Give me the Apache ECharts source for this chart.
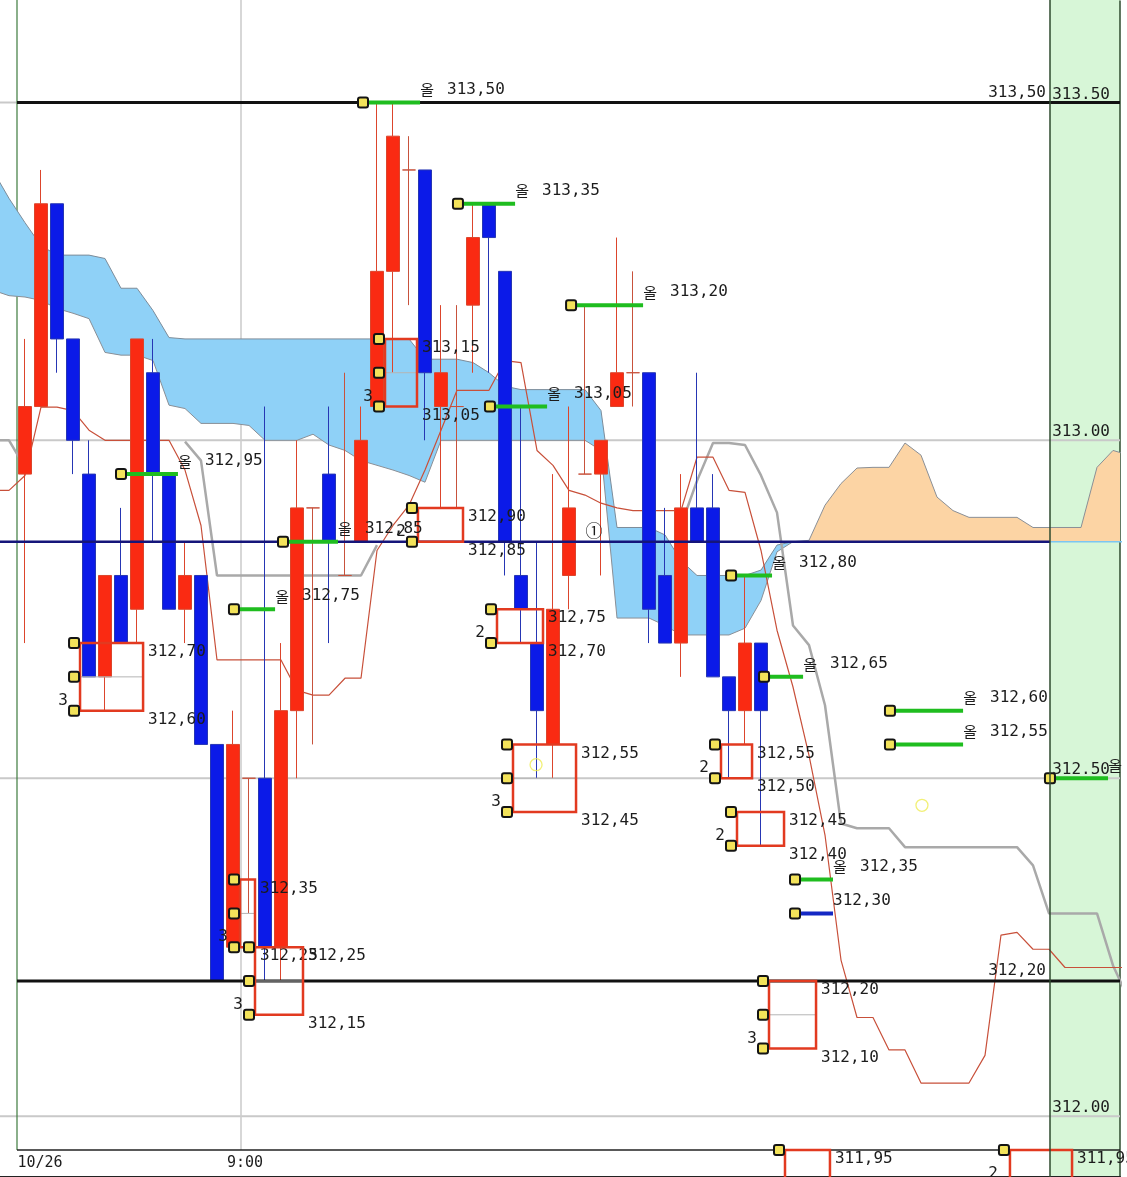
<!DOCTYPE html>
<html>
<head>
<meta charset="utf-8">
<script src="https://cdn.jsdelivr.net/npm/echarts@6/dist/echarts.min.js"></script>
<style>
html,body{margin:0;padding:0;background:#fff;}
#c{width:1127px;height:1177px;}
</style>
</head>
<body>
<div id="c"></div>
<script>
// ================= DATA =================
// candles: bar index, open, close, low, high
const candleIdx = [-2,0,1,2,3,4,5,6,7,8,9,10,11,12,13,14,15,16,17,18,19,20,21,22,23,24,25,26,27,28,29,30,31,32,33,34,35,36,37,38,39,40,41,42,43,44,45,46];
const candleOpen = [313.00,312.95,313.05,313.35,313.15,312.95,312.65,312.80,312.75,313.10,312.95,312.75,312.80,312.55,312.25,312.50,312.50,312.25,312.60,312.90,312.95,312.80,312.85,313.05,313.25,313.40,313.40,313.05,313.05,313.20,313.35,313.25,312.80,312.70,312.55,312.80,312.95,312.95,313.05,313.10,313.10,312.80,312.70,312.90,312.90,312.65,312.60,312.70];
const candleClose = [312.85,313.05,313.35,313.15,313.00,312.65,312.80,312.70,313.15,312.95,312.75,312.80,312.55,312.20,312.55,312.50,312.25,312.60,312.90,312.90,312.85,312.80,313.00,313.25,313.45,313.40,313.10,313.10,313.05,313.30,313.30,312.85,312.75,312.60,312.75,312.90,312.95,313.00,313.10,313.10,312.75,312.70,312.90,312.85,312.65,312.60,312.70,312.60];
const candleLow = [312.85,312.70,313.05,313.10,312.95,312.65,312.60,312.70,312.70,312.85,312.75,312.70,312.55,312.20,312.25,312.30,312.20,312.20,312.50,312.55,312.70,312.80,312.85,313.05,313.10,313.20,313.00,312.90,312.90,313.10,313.10,312.80,312.70,312.50,312.50,312.75,312.95,312.80,313.05,313.05,312.70,312.70,312.65,312.85,312.65,312.50,312.55,312.40];
const candleHigh = [313.00,313.15,313.40,313.35,313.15,313.00,312.80,312.90,313.15,313.15,312.95,312.85,312.80,312.55,312.60,312.50,313.05,312.70,313.00,312.90,313.05,313.10,313.05,313.50,313.50,313.45,313.40,313.20,313.20,313.35,313.35,313.25,313.05,312.85,312.95,313.05,313.20,313.00,313.30,313.25,313.10,312.90,312.95,313.10,312.95,312.65,312.80,312.70];

// line indicators, one value per bar index from -2 to 69
const lineIdx = Array.from({length: 72}, (_, k) => k - 2);
const leadA = [313.399,313.358,313.322,313.288,313.274,313.274,313.274,313.269,313.225,313.225,313.192,313.152,
  313.15,313.15,313.15,313.15,313.15,313.15,313.15,313.15,313.15,313.15,313.15,313.15,313.15,313.15,313.15,
  313.12,313.12,313.12,313.115,313.10,313.08,313.075,313.075,313.075,313.075,313.075,313.044,
  312.871,312.871,312.871,312.86,312.822,312.80,312.80,312.80,312.80,312.808,312.845,
  312.85,312.85,312.85,312.85,312.85,312.85,312.85,312.85,312.85,312.85,312.85,312.85,312.85,312.85,312.85,312.85,312.85,312.85,312.85,312.85,312.85,312.85];
const leadB = [313.222,313.214,313.212,313.207,313.195,313.188,313.18,313.13,313.126,313.126,313.118,313.052,313.047,
  313.025,313.025,313.025,313.022,313.00,313.00,313.00,313.009,312.993,312.985,312.97,312.963,312.956,312.948,312.938,
  313.00,313.00,313.00,313.00,313.00,313.00,313.00,313.00,313.00,313.00,312.985,
  312.737,312.737,312.737,312.726,312.712,312.712,312.712,312.712,312.722,312.763,312.835,
  312.85,312.852,312.904,312.936,312.959,312.96,312.96,312.996,312.978,312.916,312.896,
  312.886,312.886,312.886,312.886,312.871,312.871,312.871,312.871,312.96,312.985,312.978];
const laggingLine = [313.00,313.00,312.96,null,null,null,null,null,null,null,null,null,
  312.998,312.97,312.80,312.80,312.80,312.80,312.80,312.80,312.80,312.80,312.80,312.80,312.845,
  null,null,null,null,null,null,null,null,null,null,null,null,null,null,null,null,null,null,
  312.874,312.94,312.996,312.996,312.993,312.948,312.893,312.726,312.697,312.608,312.433,
  312.426,312.426,312.426,312.398,312.398,312.398,312.398,312.398,312.398,312.398,312.398,
  312.371,312.30,312.30,312.30,312.30,312.223,312.172];
const baseLine = [312.926,312.926,312.948,313.049,313.049,313.044,313.015,313.00,313.00,313.00,313.00,313.00,
  312.956,312.874,312.675,312.675,312.675,312.675,312.675,312.63,312.623,312.623,312.648,312.648,
  312.837,312.874,312.904,312.956,313.015,313.074,313.074,313.074,313.118,313.115,312.985,312.963,312.926,312.919,312.907,312.90,
  312.896,312.896,312.896,312.896,312.975,312.975,312.926,312.923,312.837,312.719,312.635,312.534,312.416,312.231,
  312.146,312.146,312.098,312.098,312.049,312.049,312.049,312.049,312.09,312.268,312.272,312.247,312.247,
  312.22,312.22,312.22,312.22,312.22];

// horizontal line objects
const hLinePrice = [313.50, 312.20, 311.95, 312.85];
const hLineStart = [-0.5, -0.5, -0.5, -1.5625];
const hLineEnd = [68.4375, 68.4375, 68.4375, 64.0625];
const hLineKind = ['limit', 'limit', 'floor', 'base'];
const hLineLabeled = [true, true, false, false];

// box objects
const boxStart = [3.44, 13.44, 14.375, 22.5, 24.56, 29.5, 30.5, 43.5, 44.5, 46.5, 47.5, 61.56];
const boxEnd = [7.38, 14.375, 17.375, 24.5, 27.375, 32.375, 34.44, 45.44, 47.44, 49.44, 50.31, 65.44];
const boxTop = [312.70, 312.35, 312.25, 313.15, 312.90, 312.75, 312.55, 312.55, 312.45, 312.20, 311.95, 311.95];
const boxBottom = [312.60, 312.25, 312.15, 313.05, 312.85, 312.70, 312.45, 312.50, 312.40, 312.10, 311.85, 311.90];
const boxCount = [3, 3, 3, 3, 2, 2, 3, 2, 2, 3, 3, 2];

// level segment objects
const levelPrice = [313.50, 313.35, 313.20, 313.05, 312.95, 312.85, 312.75, 312.80, 312.65, 312.60, 312.55, 312.35, 312.30, 312.50];
const levelStart = [21.125, 27.06, 34.13, 29.06, 6.0, 16.125, 13.06, 44.13, 46.19, 54.06, 54.06, 48.125, 48.125, 64.06];
const levelEnd = [24.69, 30.63, 38.63, 32.63, 9.56, 19.56, 15.63, 46.69, 48.63, 58.63, 58.63, 50.5, 50.5, 67.69];
const levelTag = ['올','올','올','올','올','올','올','올','올','올','올','올','','올'];

// notes and rings
const noteIdx = [35.56], notePrice = [312.867], noteText = ['①'];
const ringIdx = [31.94, 56.06], ringPrice = [312.52, 312.46];

// axes
const yTicks = [312.00, 312.50, 313.00, 313.50];
const sessionIdx = [-0.5, 13.5];
const sessionLabel = ['10/26', '9:00'];

// ================= CHART =================
const X_MIN = -1.5625, X_MAX = 68.4375, Y_MIN = 311.91, Y_MAX = 313.65;
const PANEL_START = 64.0625;
const FLOOR = 311.95;
const FONT = '16px "DejaVu Sans Mono", "Noto Sans CJK KR", monospace';
const KFONT = '15px "Noto Sans CJK KR", sans-serif';
const TXT = '#1c1c1c';
const fmt = v => v.toFixed(2).replace('.', ',');
const hLineStyle = {
  limit: {stroke: '#111', lineWidth: 3},
  floor: {stroke: '#222', lineWidth: 1.5},
  base: {stroke: '#15157a', lineWidth: 2.5}
};
const sessionStyle = [{stroke: '#3d7b3d', lineWidth: 1.2}, {stroke: '#cdcdcd', lineWidth: 1.6}];

function dot(x, y) {
  return {type: 'rect', shape: {x: x - 5, y: y - 5, width: 10, height: 10, r: 2},
    style: {fill: '#f3e35a', stroke: '#141414', lineWidth: 2}};
}

function renderCloud(params, api) {
  if (params.dataIndex !== 0) return null;
  const runs = [];
  let cur = null;
  const add = (s, x, a, b) => {
    if (cur && cur.s !== s) cur.pts.push([x, a, b]);
    if (!cur || cur.s !== s) { cur = {s: s, pts: []}; runs.push(cur); }
    cur.pts.push([x, a, b]);
  };
  const sg = d => d > 0 ? 1 : (d < 0 ? -1 : 0);
  const n = lineIdx.length;
  for (let k = 0; k < n; k++) {
    const x0 = lineIdx[k], a0 = leadA[k], b0 = leadB[k], d0 = a0 - b0;
    const s0 = sg(d0) || (cur ? cur.s : 1);
    add(s0, x0, a0, b0);
    if (k + 1 < n) {
      const d1 = leadA[k + 1] - leadB[k + 1];
      if (d0 * d1 < 0) {
        const t = d0 / (d0 - d1);
        const xm = x0 + t * (lineIdx[k + 1] - x0);
        const am = a0 + t * (leadA[k + 1] - a0);
        add(s0, xm, am, am);
        add(sg(d1), xm, am, am);
      }
    }
  }
  const children = runs.map(r => {
    const up = r.pts.map(p => api.coord([p[0], p[1]]));
    const dn = r.pts.slice().reverse().map(p => api.coord([p[0], p[2]]));
    return {type: 'polygon', shape: {points: up.concat(dn)},
      style: {fill: r.s > 0 ? '#8fd1f7' : '#fcd4a4', stroke: null}};
  });
  return {type: 'group', children: children};
}

function renderGrid(params, api) {
  const v = yTicks[params.dataIndex];
  const a = api.coord([X_MIN, v]), b = api.coord([X_MAX, v]);
  return {type: 'line', shape: {x1: a[0], y1: a[1], x2: b[0], y2: b[1]}, style: {stroke: '#c9c9c9', lineWidth: 2}};
}

function renderPanel(params, api) {
  const a = api.coord([PANEL_START, Y_MAX]), b = api.coord([X_MAX, Y_MIN]);
  return {type: 'rect', shape: {x: a[0], y: 0, width: b[0] - a[0], height: 1177}, style: {fill: '#d7f6d7'}};
}

function renderPanelBorder(params, api) {
  const a = api.coord([PANEL_START, Y_MAX]);
  return {type: 'line', shape: {x1: a[0], y1: 0, x2: a[0], y2: 1177}, style: {stroke: '#2e4a2e', lineWidth: 1.5}};
}

function renderSession(params, api) {
  const k = params.dataIndex;
  const a = api.coord([sessionIdx[k], Y_MAX]), b = api.coord([sessionIdx[k], FLOOR]);
  return {type: 'line', shape: {x1: a[0], y1: 0, x2: b[0], y2: b[1]}, style: sessionStyle[k]};
}

function renderHLine(params, api) {
  const k = params.dataIndex;
  const a = api.coord([hLineStart[k], hLinePrice[k]]), b = api.coord([hLineEnd[k], hLinePrice[k]]);
  const children = [{type: 'line', shape: {x1: a[0], y1: a[1], x2: b[0], y2: b[1]}, style: hLineStyle[hLineKind[k]]}];
  if (hLineLabeled[k]) {
    const px = api.coord([PANEL_START, hLinePrice[k]])[0];
    children.push({type: 'text', x: px - 4, y: a[1] - 2,
      style: {text: fmt(hLinePrice[k]), font: FONT, fill: TXT, align: 'right', verticalAlign: 'bottom'}});
  }
  return {type: 'group', children: children};
}

function renderBox(params, api) {
  const k = params.dataIndex;
  const lt = api.coord([boxStart[k], boxTop[k]]);
  const rb = api.coord([boxEnd[k], boxBottom[k]]);
  const children = [];
  const dotX = lt[0] - 6;
  const levels = [lt[1]];
  if (boxCount[k] === 3) {
    const my = api.coord([boxStart[k], (boxTop[k] + boxBottom[k]) / 2])[1];
    children.push({type: 'line', shape: {x1: lt[0], y1: my, x2: rb[0], y2: my}, style: {stroke: '#b5b5b5', lineWidth: 1}});
    levels.push(my);
  }
  levels.push(rb[1]);
  children.push({type: 'rect', shape: {x: lt[0], y: lt[1], width: rb[0] - lt[0], height: rb[1] - lt[1]},
    style: {fill: 'none', stroke: '#e23a20', lineWidth: 2.5}});
  levels.forEach(y => children.push(dot(dotX, y)));
  children.push({type: 'text', x: dotX - 11, y: rb[1] - 10,
    style: {text: String(boxCount[k]), font: FONT, fill: TXT, align: 'center', verticalAlign: 'middle'}});
  children.push({type: 'text', x: rb[0] + 5, y: lt[1] + 1,
    style: {text: fmt(boxTop[k]), font: FONT, fill: TXT, align: 'left', verticalAlign: 'top'}});
  children.push({type: 'text', x: rb[0] + 5, y: rb[1] + 1,
    style: {text: fmt(boxBottom[k]), font: FONT, fill: TXT, align: 'left', verticalAlign: 'top'}});
  return {type: 'group', children: children};
}

function renderLevel(params, api) {
  const k = params.dataIndex;
  const a = api.coord([levelStart[k], levelPrice[k]]);
  const b = api.coord([levelEnd[k], levelPrice[k]]);
  const tag = levelTag[k];
  const children = [
    {type: 'line', shape: {x1: a[0], y1: a[1], x2: b[0], y2: b[1]},
      style: {stroke: tag ? '#1fbd1f' : '#1428c4', lineWidth: 4}},
    dot(a[0], a[1])
  ];
  if (tag) {
    children.push({type: 'text', x: b[0] + 7, y: b[1] - 13,
      style: {text: tag, font: KFONT, fill: TXT, align: 'center', verticalAlign: 'middle'}});
  }
  children.push({type: 'text', x: b[0] + (tag ? 27 : 0), y: b[1] - 13,
    style: {text: fmt(levelPrice[k]), font: FONT, fill: TXT, align: 'left', verticalAlign: 'middle'}});
  return {type: 'group', children: children};
}

function renderNote(params, api) {
  const k = params.dataIndex;
  const p = api.coord([noteIdx[k], notePrice[k]]);
  return {type: 'text', x: p[0], y: p[1],
    style: {text: noteText[k], font: '17px "Noto Sans CJK KR", sans-serif', fill: TXT, align: 'center', verticalAlign: 'middle'}};
}

const pairs = (arr, filterFn) => lineIdx.map((x, k) => (arr[k] == null || (filterFn && !filterFn(x))) ? [x, '-'] : [x, arr[k]]);

const chart = echarts.init(document.getElementById('c'), null, {renderer: 'canvas'});
chart.setOption({
  animation: false,
  backgroundColor: '#ffffff',
  grid: {left: 0, right: 7, top: 1, bottom: 0, containLabel: false},
  xAxis: {
    type: 'value', min: X_MIN, max: X_MAX, position: 'bottom',
    axisLine: {show: true, onZero: false, lineStyle: {color: '#222', width: 2}},
    axisTick: {show: false}, splitLine: {show: false},
    axisLabel: {
      inside: true, margin: 6, customValues: sessionIdx,
      formatter: v => {
        const k = sessionIdx.indexOf(v);
        return k === 0 ? '{l|' + sessionLabel[0] + '}' : '{c|' + sessionLabel[k] + '}';
      },
      rich: {
        l: {fontFamily: '"DejaVu Sans Mono", monospace', fontSize: 15, color: TXT, padding: [0, 0, 0, 46]},
        c: {fontFamily: '"DejaVu Sans Mono", monospace', fontSize: 15, color: TXT, padding: [0, 0, 0, 8]}
      }
    }
  },
  yAxis: {
    type: 'value', min: Y_MIN, max: Y_MAX, position: 'right', scale: true,
    axisLine: {show: true, onZero: false, lineStyle: {color: '#2e4a2e', width: 1.5}},
    axisTick: {show: false}, splitLine: {show: false},
    axisLabel: {
      inside: true, margin: 10, customValues: yTicks, verticalAlign: 'bottom',
      formatter: v => v.toFixed(2), color: TXT,
      fontFamily: '"DejaVu Sans Mono", monospace', fontSize: 16
    }
  },
  series: [
    {type: 'custom', name: 'panel', z: 0, silent: true, data: [[PANEL_START, Y_MAX]], renderItem: renderPanel},
    {type: 'custom', name: 'grid', z: 1, silent: true, data: yTicks.map(v => [X_MIN, v]), renderItem: renderGrid},
    {type: 'custom', name: 'sessions', z: 1, silent: true, data: sessionIdx.map(x => [x, Y_MAX]), renderItem: renderSession},
    {type: 'custom', name: 'cloud', z: 2, silent: true, clip: true, data: lineIdx.map((x, k) => [x, leadA[k], leadB[k]]), renderItem: renderCloud},
    {type: 'line', name: 'leadA', z: 3, silent: true, symbol: 'none', data: pairs(leadA, x => x <= PANEL_START + 0.01),
      lineStyle: {color: '#7d8c99', width: 1}},
    {type: 'line', name: 'leadA tail', z: 3, silent: true, symbol: 'none', data: pairs(leadA, x => x >= PANEL_START - 1),
      lineStyle: {color: '#7cc6f2', width: 1.6}},
    {type: 'line', name: 'leadB', z: 3, silent: true, symbol: 'none', data: pairs(leadB),
      lineStyle: {color: '#8a8f96', width: 1}},
    {type: 'line', name: 'lagging', z: 4, silent: true, symbol: 'none', connectNulls: false, data: pairs(laggingLine),
      lineStyle: {color: '#a9a9a9', width: 2.5}},
    {type: 'line', name: 'base', z: 4, silent: true, symbol: 'none', data: pairs(baseLine),
      lineStyle: {color: '#c8503a', width: 1.2}},
    {type: 'candlestick', name: 'price', z: 5, barWidth: 14,
      data: candleIdx.map((x, k) => [x, candleOpen[k], candleClose[k], candleLow[k], candleHigh[k]]),
      itemStyle: {color: '#fa2a12', color0: '#0b1ae8', borderColor: '#dc452c', borderColor0: '#2636b4',
        borderColorDoji: '#c8523c', borderWidth: 1}},
    {type: 'custom', name: 'hlines', z: 6, silent: true, data: hLinePrice.map((p, k) => [hLineStart[k], p]), renderItem: renderHLine},
    {type: 'custom', name: 'boxes', z: 7, silent: true, data: boxTop.map((p, k) => [boxStart[k], p]), renderItem: renderBox},
    {type: 'custom', name: 'levels', z: 8, silent: true, data: levelPrice.map((p, k) => [levelStart[k], p]), renderItem: renderLevel},
    {type: 'scatter', name: 'rings', z: 9, silent: true, symbol: 'circle', symbolSize: 12,
      data: ringIdx.map((x, k) => [x, ringPrice[k]]),
      itemStyle: {color: 'rgba(0,0,0,0)', borderColor: '#efec55', borderWidth: 1.3}},
    {type: 'custom', name: 'notes', z: 9, silent: true, data: noteIdx.map((x, k) => [x, notePrice[k]]), renderItem: renderNote},
    {type: 'custom', name: 'panelBorder', z: 10, silent: true, data: [[PANEL_START, Y_MAX]], renderItem: renderPanelBorder}
  ]
});
</script>
</body>
</html>
